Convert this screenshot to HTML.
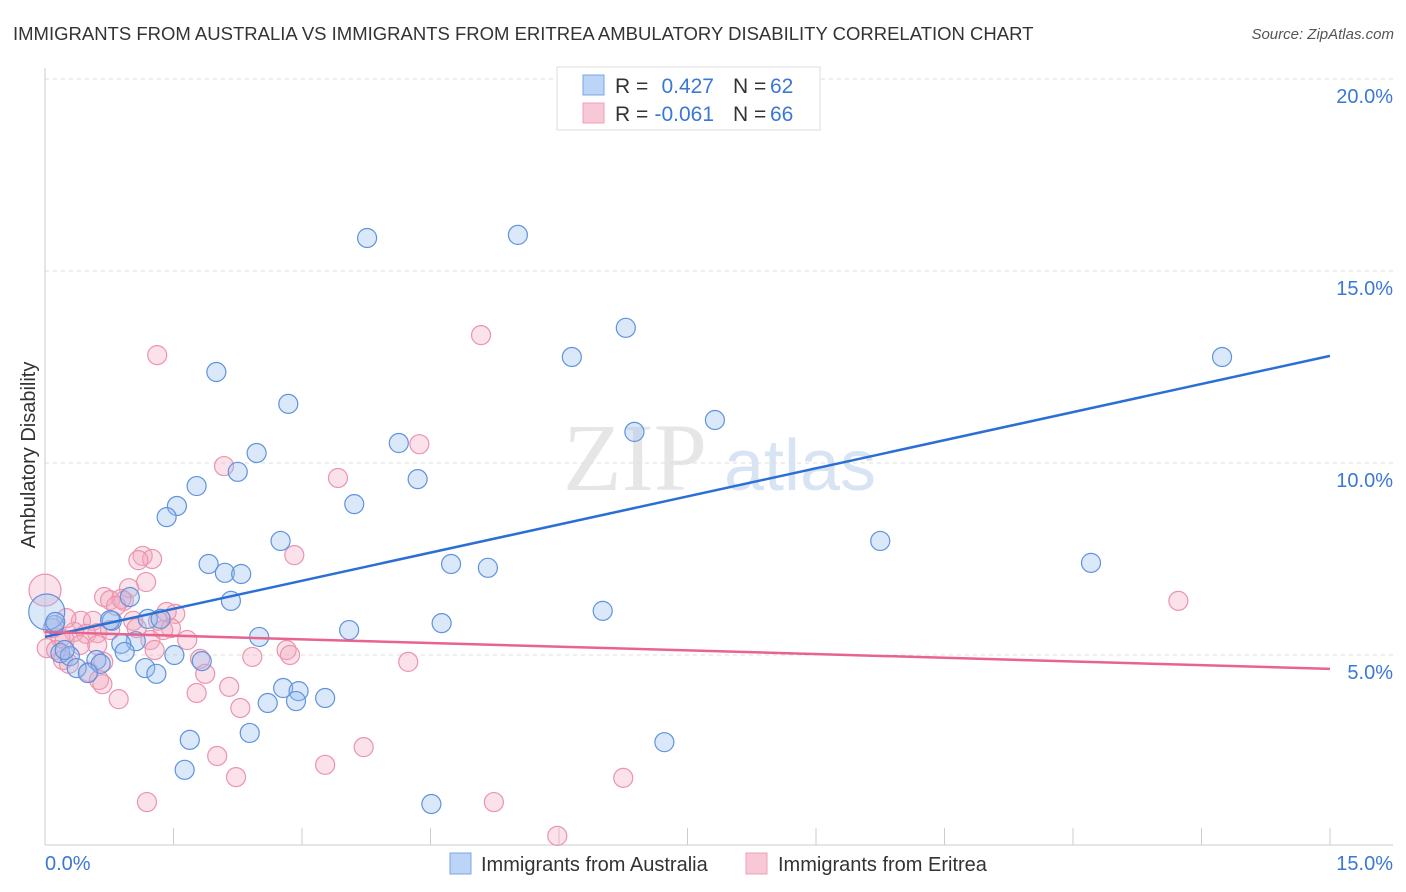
<!DOCTYPE html>
<html><head><meta charset="utf-8"><style>
body{margin:0;background:#fff;width:1406px;height:892px;overflow:hidden;font-family:"Liberation Sans",sans-serif}
svg{display:block}
</style></head><body>
<svg id="chart" width="1406" height="892" xmlns="http://www.w3.org/2000/svg">
<text x="13" y="40" font-size="18.5" fill="#333">IMMIGRANTS FROM AUSTRALIA VS IMMIGRANTS FROM ERITREA AMBULATORY DISABILITY CORRELATION CHART</text>
<text x="1394" y="39" font-size="15" fill="#555" font-style="italic" text-anchor="end">Source: ZipAtlas.com</text>
<g>
<text x="635" y="490" font-size="96" fill="#e6e6e6" font-family="Liberation Serif,serif" text-anchor="middle">ZIP</text>
<text x="800" y="490" font-size="72" fill="#d8e4f4" text-anchor="middle">atlas</text>
</g>
<g id="grid"></g>
<g id="axes"></g>
<g id="pts"></g>
<g id="trends"></g>
<text x="35" y="455" font-size="20" fill="#333" text-anchor="middle" transform="rotate(-90 35 455)">Ambulatory Disability</text>
<text x="45" y="870" font-size="20" fill="#3a78d6">0.0%</text>
<text x="1393" y="870" font-size="20" fill="#3a78d6" text-anchor="end">15.0%</text>
<g>
<rect x="557" y="67" width="263" height="63" fill="#fff" stroke="#ddd"/>
<rect x="583" y="75" width="21" height="20" fill="#bcd4f6" stroke="#7aa6e6"/>
<rect x="583" y="103" width="21" height="20" fill="#f8c8d6" stroke="#eca0b8"/>
<text x="615" y="93" font-size="21" fill="#333">R = </text><text x="714" y="93" font-size="21" fill="#3a78d6" text-anchor="end">0.427</text>
<text x="733" y="93" font-size="21" fill="#333">N = </text><text x="770" y="93" font-size="21" fill="#3a78d6">62</text>
<text x="615" y="121" font-size="21" fill="#333">R = </text><text x="714" y="121" font-size="21" fill="#3a78d6" text-anchor="end">-0.061</text>
<text x="733" y="121" font-size="21" fill="#333">N = </text><text x="770" y="121" font-size="21" fill="#3a78d6">66</text>
</g>
<g>
<rect x="450" y="853" width="21" height="21" fill="#bcd4f6" stroke="#7aa6e6"/>
<text x="481" y="871" font-size="20" fill="#333">Immigrants from Australia</text>
<rect x="746" y="853" width="21" height="21" fill="#f8c8d6" stroke="#eca0b8"/>
<text x="778" y="871" font-size="20" fill="#333">Immigrants from Eritrea</text>
</g>
</svg>
<script>
const yTicks=[5,10,15,20];
const yTickLabels=["5.0%","10.0%","15.0%","20.0%"];
const xTicks=[0,1.5,3,4.5,6,7.5,9,10.5,12,13.5,15];
const blueX=[3.76,5.52,6.78,6.15,13.74,2.00,2.84,7.82,6.88,4.13,2.47,2.25,4.35,1.77,3.61,1.54,1.42,9.75,2.75,12.21,4.74,5.17,1.91,2.10,2.29,6.51,2.17,0.99,4.63,1.20,0.78,1.35,3.55,2.50,1.06,0.89,0.11,0.02,0.18,0.93,1.51,0.29,0.60,0.65,1.83,1.17,0.37,0.50,1.30,2.78,2.96,2.60,2.93,3.27,1.69,2.39,7.23,1.63,4.51,0.12,0.23,0.76];
const blueY=[15.86,15.94,13.52,12.76,12.76,12.37,11.54,11.12,10.81,10.52,10.26,9.77,9.58,9.40,8.93,8.88,8.59,7.97,7.97,7.40,7.37,7.27,7.37,7.14,7.11,6.15,6.41,6.51,5.83,5.94,5.89,5.94,5.65,5.47,5.36,5.29,5.78,6.12,5.05,5.08,5.00,4.97,4.87,4.77,4.84,4.66,4.66,4.53,4.51,4.14,4.06,3.75,3.80,3.88,2.79,2.97,2.73,2.01,1.12,5.86,5.13,5.91];
const pinkX=[5.09,1.31,4.37,2.09,3.42,2.91,1.14,1.25,1.09,1.18,0.98,0.69,0.76,0.92,0.89,1.52,1.42,1.32,1.03,0.42,0.56,1.47,0.61,0.48,0.34,0.09,0.18,0.76,1.23,1.66,0.23,0.02,0.13,0.21,0.28,2.82,2.86,2.42,1.81,1.87,0.68,4.24,0.51,0.63,0.67,2.15,1.77,0.86,2.28,13.23,3.72,2.01,3.27,2.23,6.75,1.19,5.24,5.98,0.00,1.07,0.41,0.83,1.28,0.61,0.25,1.38];
const pinkY=[13.33,12.81,10.49,9.92,9.61,7.60,7.58,7.50,7.47,6.90,6.74,6.51,6.43,6.41,6.46,6.07,6.12,5.89,5.89,5.89,5.89,5.70,5.57,5.55,5.60,5.70,5.44,5.65,5.39,5.39,5.39,5.18,5.13,4.87,4.77,5.13,5.00,4.95,4.90,4.51,4.82,4.82,4.56,4.35,4.24,4.17,4.01,3.85,3.62,6.41,2.60,2.37,2.14,1.82,1.80,1.17,1.17,0.29,6.69,5.70,5.26,6.28,5.13,5.26,5.96,5.65];
const blueBig=[0,0,0,0,0,0,0,0,0,0,0,0,0,0,0,0,0,0,0,0,0,0,0,0,0,0,0,0,0,0,0,0,0,0,0,0,0,1];
const blueTrend=[5.47,12.79];
const pinkTrend=[5.60,4.64];
const NS="http://www.w3.org/2000/svg";
const X0=45,X1=1330,YB=847,PXP=192/5;
const sx=v=>X0+(v/15)*(X1-X0);
const sy=v=>YB-v*PXP;
function mk(t,a,p){const e=document.createElementNS(NS,t);for(const k in a)e.setAttribute(k,a[k]);p.appendChild(e);return e;}
const grid=document.getElementById('grid');
yTicks.forEach((t,i)=>{
 const l=mk('line',{x1:45,x2:1393,y1:sy(t),y2:sy(t),stroke:'#ddd','stroke-dasharray':'4,4'},grid);
 
 
 const tx=mk('text',{x:1393,y:sy(t)+24,'font-size':20,fill:'#3a78d6','text-anchor':'end'},grid);
 tx.textContent=yTickLabels[i];
 
 
});
const axes=document.getElementById('axes');
const ya=mk('line',{x1:45,x2:45,y1:68,y2:845,stroke:'#ccc'},axes);


const xa=mk('line',{x1:45,x2:1393,y1:845,y2:845,stroke:'#ccc'},axes);


xTicks.forEach(t=>{
 const l=mk('line',{x1:sx(t),x2:sx(t),y1:828,y2:845,stroke:'#ccc'},axes);
 
 
});
const pts=document.getElementById('pts');
pinkX.forEach((x,i)=>{
 const c=mk('circle',{cx:sx(x),cy:sy(pinkY[i]),r:(i===58?16:9.5),fill:'rgba(244,170,192,0.35)',stroke:'#eb94ae','stroke-width':1.2},pts);
 
 
});
blueX.forEach((x,i)=>{
 const c=mk('circle',{cx:sx(x),cy:sy(blueY[i]),r:(blueBig[i]?18:9.5),fill:'rgba(150,190,240,0.35)',stroke:'#5f93dd','stroke-width':1.2},pts);
 
 
});
const tr=document.getElementById('trends');
const bl=mk('line',{x1:sx(0),x2:sx(15),y1:sy(blueTrend[0]),y2:sy(blueTrend[1]),stroke:'#2a6fd6','stroke-width':2.5},tr);


const pl=mk('line',{x1:sx(0),x2:sx(15),y1:sy(pinkTrend[0]),y2:sy(pinkTrend[1]),stroke:'#e8648e','stroke-width':2.5},tr);


</script>
</body></html>
